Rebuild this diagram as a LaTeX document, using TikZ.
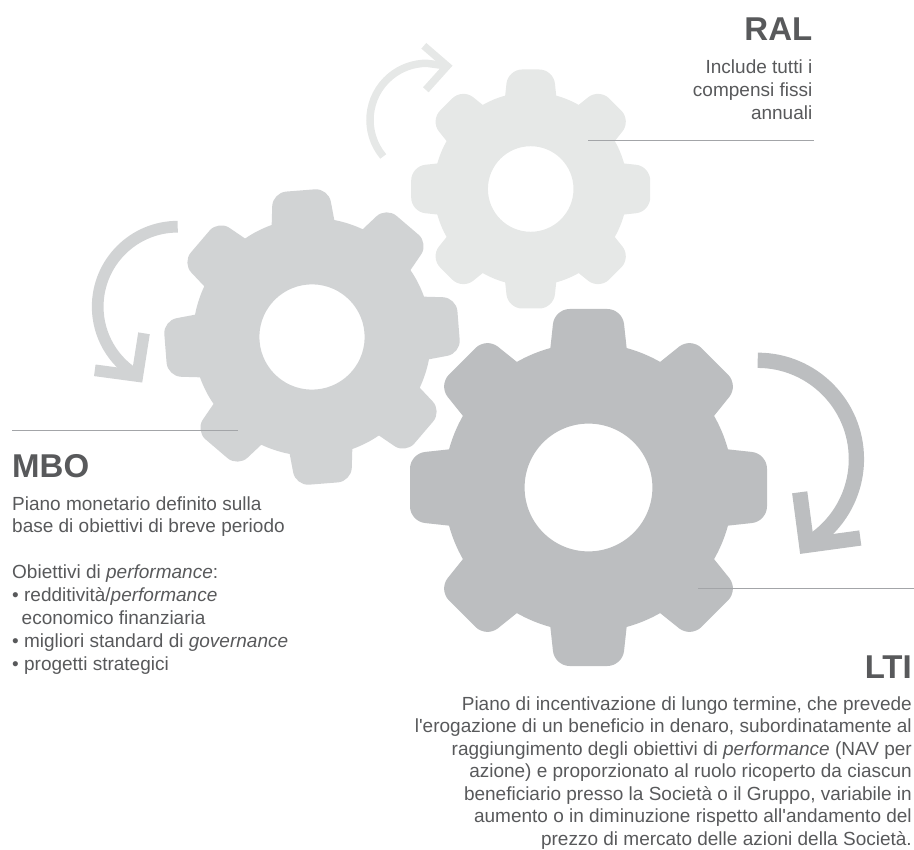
\documentclass[tikz,border=0pt]{standalone}
\usepackage{fontspec}
\setmainfont{Liberation Sans}[Ligatures=TeXOff]
\usetikzlibrary{positioning}
\definecolor{ralgray}{HTML}{E6E8E7}
\definecolor{mbogray}{HTML}{D1D3D4}
\definecolor{ltigray}{HTML}{BCBEC0}
\definecolor{textgray}{HTML}{58595B}
\definecolor{rulegray}{HTML}{A3A5A8}
\tikzset{
  heading/.style={inner sep=0pt, text=textgray, font=\fontsize{33}{33}\selectfont\bfseries},
  bodytext/.style={inner sep=0pt, text=textgray, font=\fontsize{19}{22.9}\selectfont},
  leader/.style={draw=rulegray, line width=1pt},
  turn/.style={line join=miter, miter limit=10}
}
% centre x, centre y, tip radius, rotation, colour, corner radius
\newcommand{\drawgear}[6]{
  \begin{scope}[shift={(#1,#2)}, scale=#3, rotate=#4]
    \fill[#5, even odd rule] (-15.3:.81)
      \foreach \a in {0,45,...,315} {
        -- ([rotate=\a].7813,-.2137) [rounded corners=#6pt]
        -- ([rotate=\a]1,-.19) -- ([rotate=\a]1,.19) [sharp corners]
        -- ([rotate=\a].7813,.2137) arc[start angle=\a+15.3, end angle=\a+29.7, radius=.81]
      } -- cycle
      (0,0) circle (.358);
  \end{scope}
}
\begin{document}
\begin{tikzpicture}[x=1pt, y=1pt]
  \useasboundingbox (0,0) rectangle (914,-850);

  % gears
  \drawgear{530.7}{-189}{119.5}{0}{ralgray}{14}
  \drawgear{312}{-337}{147}{4.5}{mbogray}{13.5}
  \drawgear{588.5}{-487.5}{178.5}{0}{ltigray}{15}

  % rotation arrows
  \draw[turn, ralgray, line width=7.5pt] (426.7,-120) ++(220:56.7) arc[start angle=220, end angle=90, radius=56.7] -- (447.2,-66);
  \draw[turn, ralgray, line width=7.5pt] (423.8,-45.8) -- (447.2,-66) -- (425.8,-89.8);
  \draw[turn, mbogray, line width=11.7pt] (177.7,-226.7) arc[start angle=90, end angle=240, radius=80];
  \draw[turn, mbogray, line width=11.7pt] (94.8,-370.3) -- (137.3,-376) -- (144,-333.3);
  \draw[turn, ltigray, line width=15.3pt] (757.7,-360.3) arc[start angle=90, end angle=-60, radius=98.7];
  \draw[turn, ltigray, line width=15.3pt] (799.7,-492.3) -- (806.7,-545.3) -- (860.3,-538);

  % leader lines
  \coordinate (ralA) at (588,-140.5);
  \coordinate (ralB) at (814,-140.5);
  \coordinate (mboA) at (12,-430.7);
  \coordinate (mboB) at (237.5,-430.7);
  \coordinate (ltiA) at (698,-588.7);
  \coordinate (ltiB) at (914,-588.7);
  \draw[leader] (ralA) -- (ralB);
  \draw[leader] (mboA) -- (mboB);
  \draw[leader] (ltiA) -- (ltiB);

  % texts
  \node (ralHead) [heading, anchor=base east] at (812.5,-41) {RAL};
  \node (ralText) [bodytext, align=right, below left=18.6pt and 0pt of ralHead.south east]
  {
    Include tutti i\\
    compensi fissi\\
    annuali
  };
  \node (mboHead) [heading, anchor=base west] at (12,-477.3) {MBO};
  \node (mboText) [bodytext, align=left, below right=18.3pt and 0pt of mboHead.south west]
  {
    Piano monetario definito sulla\\
    base di obiettivi di breve periodo\\[22.9pt]
    Obiettivi di \textit{performance}:\\
    • redditività/\textit{performance}\\
    \hspace*{9.5pt}economico finanziaria\\
    • migliori standard di \textit{governance}\\
    • progetti strategici
  };
  \node (ltiHead) [heading, anchor=base east] at (912,-678.3) {LTI};
  \node (ltiText) [bodytext, font=\fontsize{19}{22.5}\selectfont, align=right, below left=18pt and 0pt of ltiHead.south east]
  {
    Piano di incentivazione di lungo termine, che prevede\\
    l'erogazione di un beneficio in denaro, subordinatamente al\\
    raggiungimento degli obiettivi di \textit{performance} (NAV per\\
    azione) e proporzionato al ruolo ricoperto da ciascun\\
    beneficiario presso la Società o il Gruppo, variabile in\\
    aumento o in diminuzione rispetto all'andamento del\\
    prezzo di mercato delle azioni della Società.
  };
\end{tikzpicture}
\end{document}
